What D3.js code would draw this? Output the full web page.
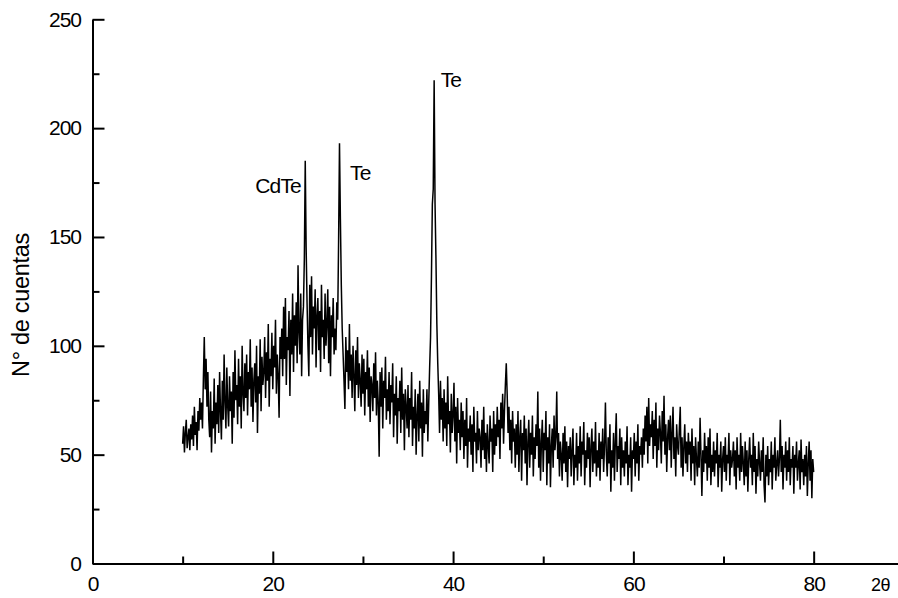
<!DOCTYPE html>
<html>
<head>
<meta charset="utf-8">
<script src="https://cdn.jsdelivr.net/npm/d3@7"></script>
<style>
  body { margin: 0; background: #fff; }
  svg { display: block; font-family: "Liberation Sans", Arial, sans-serif; }
</style>
</head>
<body>
<svg id="chart" width="898" height="598"></svg>
<script>
// scan: 10 -> 80 deg (2theta), step 0.1
const angleStart = 10;
const angleStep = 0.1;

const counts10to30 = [
  55, 63, 51, 60, 66, 53, 58, 62, 52, 64,
  57, 68, 54, 72, 59, 65, 52, 70, 61, 76,
  66, 74, 62, 85, 104, 80, 94, 72, 88, 66,
  58, 79, 51, 70, 62, 85, 55, 74, 64, 82,
  60, 88, 70, 57, 84, 66, 96, 74, 62, 90,
  72, 63, 86, 70, 79, 55, 88, 67, 98, 75,
  82, 64, 94, 72, 86, 62, 100, 78, 70, 92,
  76, 96, 68, 88, 80, 103, 72, 90, 65, 84,
  92, 74, 100, 60, 86, 78, 103, 70, 95, 82,
  88, 104, 76, 97, 84, 110, 72, 94, 86, 106,
  80, 100, 90, 112, 78, 96, 86, 67, 104, 94,
  108, 86, 118, 94, 122, 82, 104, 98, 116, 77,
  112, 96, 124, 88, 114, 100, 120, 92, 137, 106,
  96, 124, 86, 112, 118, 140, 185, 145, 120, 100,
  86, 128, 104, 132, 96, 118, 108, 126, 90, 114,
  122, 98, 116, 88, 128, 104, 112, 94, 124, 100,
  110, 126, 92, 118, 86, 114, 104, 122, 96, 108,
  98, 120, 112, 148, 193, 158, 128, 108, 96, 84,
  71, 104, 88, 98, 80, 110, 84, 96, 76, 100,
  86, 70, 98, 82, 104, 76, 92, 84, 72, 96
];

const counts30to50 = [
  78, 94, 68, 88, 80, 98, 72, 90, 65, 86,
  82, 70, 92, 76, 97, 68, 84, 74, 49, 88,
  72, 90, 62, 84, 76, 95, 66, 80, 70, 88,
  64, 82, 74, 92, 58, 78, 68, 86, 55, 76,
  70, 84, 60, 90, 66, 78, 52, 80, 72, 62,
  82, 58, 76, 66, 88, 54, 72, 62, 80, 50,
  68, 78, 56, 84, 62, 74, 49, 80, 60, 70,
  64, 80, 56, 74, 90, 104, 132, 165, 172, 222,
  165, 140, 110, 92, 78, 60, 84, 66, 76, 56,
  80, 62, 74, 54, 86, 64, 70, 51, 78, 60,
  68, 83, 56, 72, 46, 76, 60, 66, 52, 74,
  58, 70, 48, 66, 54, 76, 44, 62, 56, 68,
  50, 64, 42, 72, 56, 60, 46, 70, 52, 62,
  58, 44, 66, 52, 72, 48, 60, 42, 64, 54,
  46, 68, 56, 62, 42, 70, 50, 64, 54, 72,
  58, 66, 48, 74, 62, 78, 55, 70, 82, 92,
  78, 60, 72, 52, 66, 46, 70, 56, 62, 44,
  64, 50, 70, 42, 58, 66, 38, 60, 52, 68,
  46, 62, 36, 56, 66, 44, 60, 50, 68, 40,
  58, 48, 64, 54, 79, 44, 62, 38, 56, 66
];

const counts50to80 = [
  42, 60, 52, 70, 36, 58, 46, 64, 35, 54,
  62, 44, 68, 52, 58, 79, 48, 60, 40, 56,
  50, 38, 60, 46, 63, 42, 56, 35, 54, 48,
  58, 40, 52, 62, 36, 50, 44, 60, 38, 54,
  46, 63, 40, 56, 50, 65, 36, 52, 44, 60,
  48, 58, 35, 54, 62, 42, 56, 46, 65, 40,
  52, 44, 60, 38, 56, 48, 62, 42, 54, 74,
  50, 40, 58, 46, 64, 33, 52, 44, 60, 38,
  56, 69, 42, 54, 48, 62, 36, 58, 44, 52,
  40, 56, 46, 63, 36, 50, 44, 58, 33, 52,
  48, 60, 40, 56, 46, 64, 38, 54, 50, 58,
  44, 62, 50, 68, 56, 72, 46, 76, 54, 64,
  58, 70, 48, 66, 54, 74, 44, 62, 52, 68,
  60, 46, 70, 56, 77, 50, 64, 42, 58, 66,
  52, 68, 44, 60, 72, 48, 58, 40, 64, 54,
  50, 62, 72, 44, 58, 40, 54, 64, 46, 56,
  42, 60, 50, 56, 38, 62, 46, 54, 36, 58,
  48, 40, 56, 44, 67, 50, 31, 52, 42, 60,
  46, 54, 38, 58, 44, 62, 36, 50, 42, 56,
  40, 52, 46, 60, 35, 50, 44, 56, 33, 48,
  54, 42, 58, 38, 50, 46, 60, 36, 52, 44,
  48, 56, 40, 52, 34, 58, 44, 50, 38, 60,
  42, 54, 46, 36, 56, 40, 52, 33, 48, 58,
  44, 50, 36, 60, 42, 54, 32, 48, 40, 56,
  46, 38, 52, 42, 58, 36, 28, 50, 40, 54,
  36, 48, 42, 56, 34, 50, 44, 58, 38, 46,
  52, 40, 48, 66, 42, 54, 34, 50, 44, 56,
  38, 52, 42, 58, 36, 48, 44, 54, 32, 50,
  44, 56, 38, 46, 52, 34, 57, 42, 48, 36,
  50, 40, 54, 31, 46, 56, 38, 52, 30, 48,
  42
];

const xTicks = [0, 20, 40, 60, 80];
const xMinorTicks = [10, 30, 50, 70];
const yTicks = [0, 50, 100, 150, 200, 250];
const yMinorTicks = [25, 75, 125, 175, 225];

// peak labels: text, angle, count (label anchor), text-anchor
const peakNames = ["CdTe", "Te", "Te"];
const peakAngles = [23.13, 28.56, 38.62];
const peakCounts = [170.3, 176, 219];
const peakAnchors = ["end", "start", "start"];

const counts = counts10to30.concat(counts30to50, counts50to80);
const points = counts.map((c, i) => [angleStart + i * angleStep, c]);

const svg = d3.select("#chart");

const x = d3.scaleLinear().domain([0, 89.3]).range([92.5, 897.5]);
const y = d3.scaleLinear().domain([0, 250]).range([563.5, 19.3]);

// data line
svg.append("path")
    .datum(points)
    .attr("fill", "none")
    .attr("stroke", "#000")
    .attr("stroke-width", 1.5)
    .attr("stroke-linejoin", "miter")
    .attr("d", d3.line().x(d => x(d[0])).y(d => y(d[1])));

// x axis
svg.append("g")
    .attr("transform", "translate(0," + y(0) + ")")
    .call(d3.axisBottom(x).tickValues(xTicks).tickSizeInner(-12).tickSizeOuter(0).tickPadding(13));

svg.append("g")
    .attr("transform", "translate(0," + y(0) + ")")
    .call(d3.axisBottom(x).tickValues(xMinorTicks).tickSizeInner(-7).tickSizeOuter(0).tickFormat(""))
    .select(".domain").remove();

// y axis
svg.append("g")
    .attr("transform", "translate(" + x(0) + ",0)")
    .call(d3.axisLeft(y).tickValues(yTicks).tickSizeInner(-12).tickSizeOuter(0).tickPadding(11.5));

svg.append("g")
    .attr("transform", "translate(" + x(0) + ",0)")
    .call(d3.axisLeft(y).tickValues(yMinorTicks).tickSizeInner(-7).tickSizeOuter(0).tickFormat(""))
    .select(".domain").remove();

svg.selectAll(".domain, .tick line")
    .attr("stroke", "#000")
    .attr("stroke-width", 2);

svg.selectAll(".tick text")
    .attr("fill", "#000")
    .style("font-family", "'Liberation Sans', Arial, sans-serif")
    .style("font-size", "21px")
    .style("letter-spacing", "-1px");

// axis titles
svg.append("text")
    .attr("transform", "translate(28.5,305) rotate(-90)")
    .attr("text-anchor", "middle")
    .style("font-size", "23.5px")
    .style("letter-spacing", "-0.3px")
    .text("N° de cuentas");

svg.append("text")
    .attr("x", 871)
    .attr("y", 591)
    .style("font-size", "18px")
    .style("letter-spacing", "-0.5px")
    .text("2θ");

// peak labels
svg.selectAll(".peak")
    .data(peakNames)
    .enter().append("text")
    .attr("class", "peak")
    .attr("x", (d, i) => x(peakAngles[i]))
    .attr("y", (d, i) => y(peakCounts[i]))
    .attr("text-anchor", (d, i) => peakAnchors[i])
    .style("font-size", "21px")
    .style("letter-spacing", "-0.8px")
    .text(d => d);
</script>
</body>
</html>
